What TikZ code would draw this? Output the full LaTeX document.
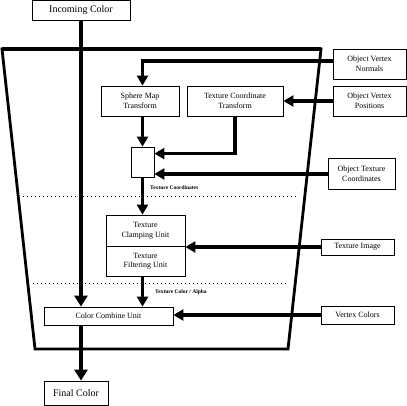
\documentclass[tikz,border=0pt]{standalone}
\usepackage{fontspec}
\setmainfont{Liberation Serif}
\usetikzlibrary{arrows.meta}

\begin{document}
\begin{tikzpicture}[x=1pt,y=-1pt,
  box/.style={draw,line width=0.8pt,align=center,inner sep=0pt,font=\fontsize{8}{9.5}\selectfont},
  bigbox/.style={box,font=\fontsize{10}{12}\selectfont},
  feed/.style={line width=3.2pt,-{Triangle[length=10pt,width=11pt]}},
  main/.style={line width=4.5pt,-{Triangle[length=11pt,width=13pt]}},
  sep/.style={line width=0.8pt,dash pattern=on 0.8pt off 3.2pt},
  note/.style={anchor=west,inner sep=0pt,font=\fontsize{5.5}{6.5}\selectfont\bfseries}]
\useasboundingbox (0,0) rectangle (407,406);
% pipeline outline
\draw [line width=2.8pt,line join=miter] (2,49) -- (321,49) -- (288,349) -- (35,349) -- cycle;
\draw [line width=3.8pt] (2,49) -- (321,49);
\draw [sep] (23,196) -- (297,196);
\draw [sep] (33,283) -- (287,283);
% boxes
\node (incoming) [bigbox,minimum width=98pt,minimum height=20pt] at (81,10.5) {Incoming Color};
\node (normals) [box,minimum width=73pt,minimum height=30pt] at (369.5,64) {Object Vertex\\Normals};
\node (positions) [box,minimum width=73pt,minimum height=30pt] at (369.5,101) {Object Vertex\\Positions};
\node (sphere) [box,minimum width=78pt,minimum height=30pt] at (140,101) {Sphere Map\\Transform};
\node (texcoord) [box,minimum width=96pt,minimum height=30pt] at (235,101) {Texture Coordinate\\Transform};
\node (select) [box,minimum width=23pt,minimum height=30pt] at (142.5,162) {};
\node (objtex) [box,minimum width=67pt,minimum height=31pt] at (361.5,174) {Object Texture\\Coordinates};
\node (clamp) [box,minimum width=79pt,minimum height=31pt] at (145.5,230.5) {Texture\\Clamping Unit};
\node (filter) [box,minimum width=79pt,minimum height=30pt] at (145.5,261) {Texture\\Filtering Unit};
\node (teximage) [box,minimum width=73pt,minimum height=16pt] at (357.5,247) {Texture Image};
\node (combine) [box,minimum width=129pt,minimum height=18pt] at (108.5,316) {Color Combine Unit};
\node (vcolors) [box,minimum width=73pt,minimum height=18pt] at (357.5,315) {Vertex Colors};
\node (final) [bigbox,minimum width=64pt,minimum height=24pt] at (76,393) {Final Color};
% connectors
\draw [main] (incoming.south) -- (incoming.south |- combine.north);
\draw [main] (incoming.south |- combine.south) -- (incoming.south |- final.north);
\draw [feed] ([yshift=3pt]normals.west) -| (select.north |- sphere.north);
\draw [feed] (positions.west) -- (texcoord.east);
\draw [feed] (select.north |- sphere.south) -- (select.north);
\draw [feed] (texcoord.south) |- ([yshift=-7pt]select.north east);
\draw [feed] (objtex.west) -- (objtex.west -| select.east);
\draw [feed] (select.south) -- (select.south |- clamp.north);
\draw [feed] (teximage.west) -- (teximage.west -| clamp.east);
\draw [feed] (select.south |- filter.south) -- (select.south |- combine.north);
\draw [feed] (vcolors.west) -- (vcolors.west -| combine.east);
% labels
\node (tclabel) [note] at (150,188) {Texture Coordinates};
\node (calabel) [note] at (155,292) {Texture Color / Alpha};
\end{tikzpicture}
\end{document}
